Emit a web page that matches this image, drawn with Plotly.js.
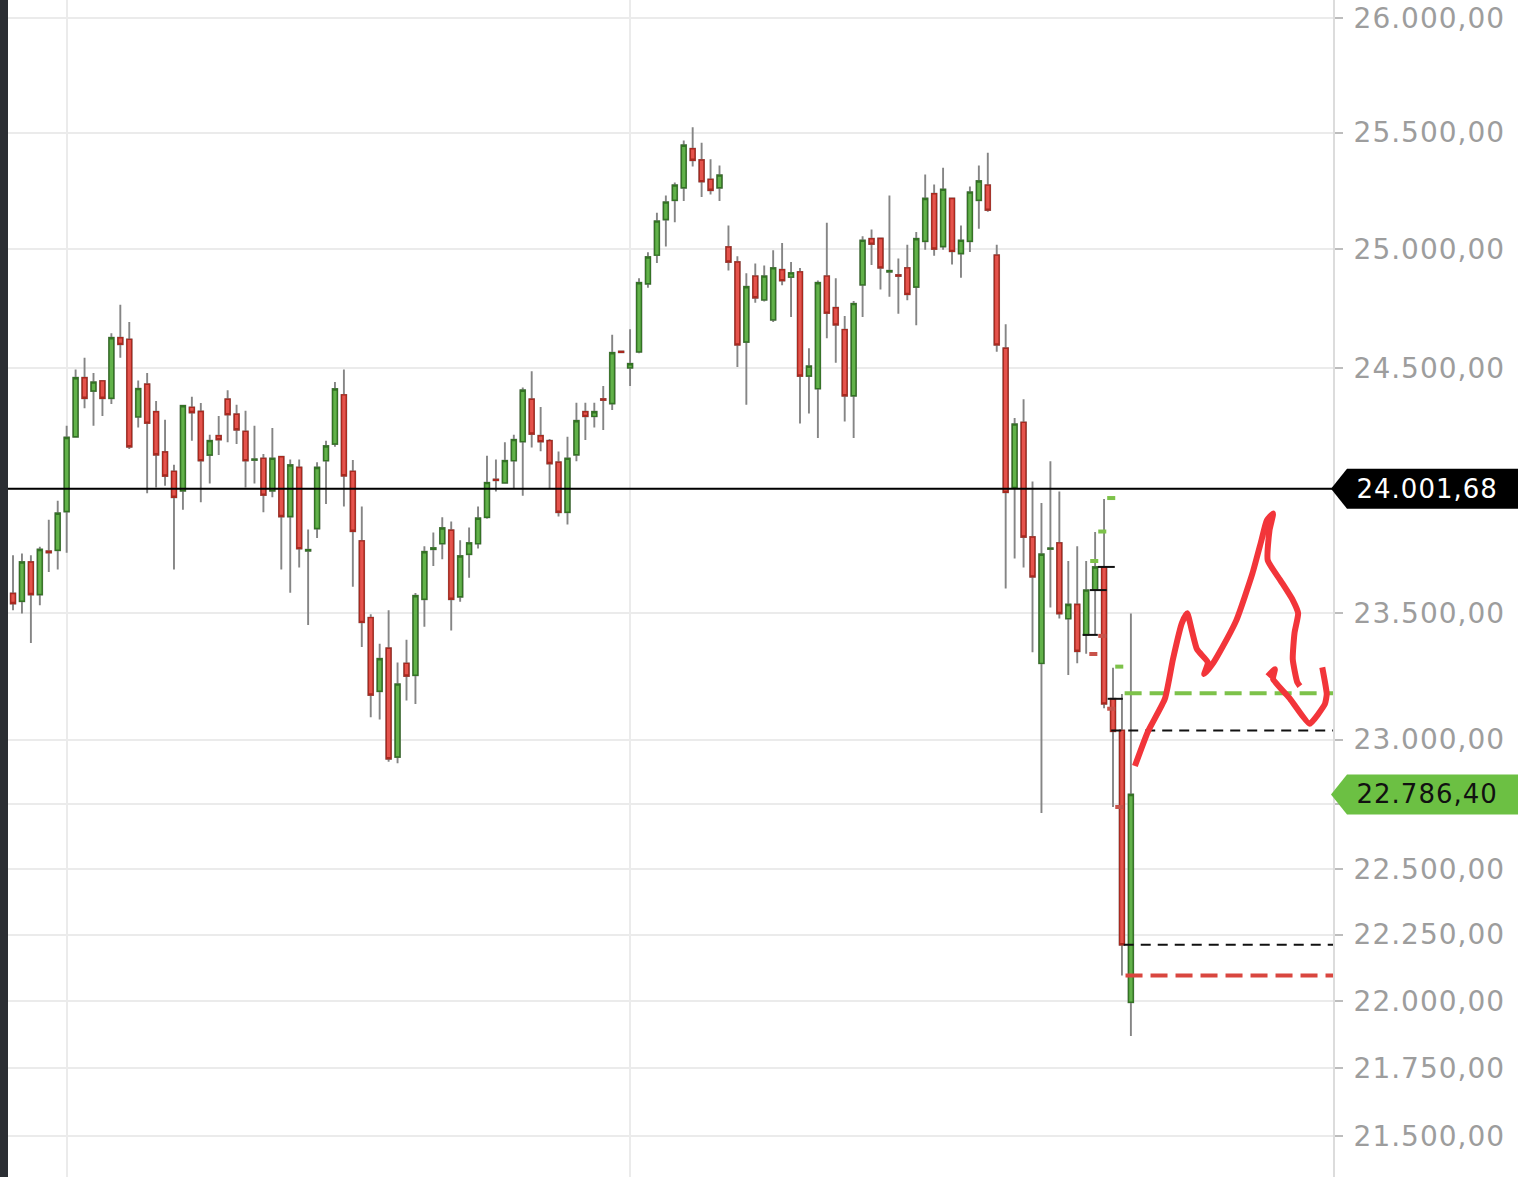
<!DOCTYPE html>
<html><head><meta charset="utf-8">
<script src="https://cdn.plot.ly/plotly-3.0.1.min.js"></script>
<style>html,body{margin:0;padding:0;background:#fff;overflow:hidden}#chart{width:1518px;height:1177px}
#chart .ytick text{letter-spacing:1px}
#chart .annotation-text{letter-spacing:1px}
</style>
</head><body><div id="chart"></div>
<script>
// OHLC values (one candle per session)
const openP  = [23578,23547,23705,23574,23748,23752,23909,24215,24459,24404,24446,24374,24626,24619,24297,24432,24318,24152,24073,23994,24336,24319,24140,24219,24370,24308,24237,24119,24126,23994,24133,23889,24089,23750,23840,24117,24185,24388,24073,23790,23482,23190,23360,22932,23300,23253,23555,23756,23779,23833,23565,23736,23779,23886,24040,24026,24117,24195,24370,24219,24199,24110,23906,24141,24318,24299,24371,24352,24569,24500,24567,24853,24974,25126,25208,25262,25430,25381,25298,25262,25009,24945,24608,24885,24785,24701,24912,24881,24903,24466,24414,24885,24752,24660,24384,24848,25044,25045,24904,24890,24920,24839,25033,25236,25011,25216,24981,25033,25208,25273,24974,24582,24007,24274,23806,23300,23757,23782,23478,23534,23413,23594,23685,23160,23036,21996];
const highP  = [23732,23739,23732,23766,23876,23953,24260,24493,24542,24479,24448,24645,24764,24692,24448,24479,24363,24285,24100,24347,24380,24354,24223,24301,24407,24347,24322,24260,24144,24251,24137,24121,24121,23836,24110,24199,24441,24493,24119,23930,23495,23378,23511,23303,23394,23580,23768,23824,23886,23869,23793,23844,23930,24137,24121,24192,24223,24418,24486,24338,24206,24154,24215,24355,24355,24355,24425,24638,24572,24661,24876,24986,25155,25229,25284,25466,25523,25456,25384,25358,25100,24969,24897,24939,24930,24995,25026,24945,24920,24582,24867,25112,24876,24717,24780,25054,25083,25048,25229,24960,25018,25073,25319,25276,25348,25218,25100,25267,25358,25413,25018,24682,24292,24370,24031,23944,24114,23991,23709,23768,23709,23826,23960,23283,23179,23498];
const lowP   = [23511,23498,23381,23531,23665,23675,23742,24212,24333,24260,24301,24350,24542,24165,24253,23983,24007,24014,23675,23916,24199,23947,24023,24140,24192,24185,24007,24023,23906,23967,23675,23581,23683,23452,23802,23940,24174,23930,23605,23365,23088,23079,22914,22908,23153,23140,23445,23689,23716,23430,23545,23641,23759,23880,23991,24023,24003,23973,24171,24155,24003,23889,23856,24114,24202,24253,24243,24325,24562,24425,24561,24836,24941,25011,25114,25205,25353,25222,25233,25205,24909,24504,24347,24773,24778,24692,24847,24713,24270,24311,24210,24624,24521,24278,24210,24713,24932,24829,24798,24727,24783,24678,24997,24972,24997,24934,24878,24987,25086,25159,24567,23598,23719,23683,23344,22715,23522,23478,23254,23300,23338,23413,23123,22738,22096,21870];
const closeP = [23538,23705,23574,23755,23743,23902,24212,24459,24374,24441,24374,24626,24598,24174,24414,24271,24141,24054,23967,24343,24315,24117,24199,24203,24306,24244,24117,24123,23976,24126,23889,24099,23759,23754,24089,24177,24412,24055,23829,23463,23175,23318,22925,23218,23250,23569,23746,23762,23842,23555,23729,23782,23882,24027,24036,24117,24203,24407,24226,24195,24105,23906,24126,24281,24299,24318,24366,24563,24565,24517,24857,24966,25119,25200,25273,25445,25380,25288,25251,25316,24945,24596,24840,24794,24885,24920,24866,24899,24466,24507,24857,24729,24680,24384,24769,25037,25021,24920,24908,24886,24808,25044,25216,25000,25255,24990,25037,25243,25291,25166,24596,23987,24267,23806,23645,23736,23761,23498,23534,23348,23592,23685,23140,23032,22212,22786.4];

// Month separators (candle index)
const monthStarts = [6, 69];

// Right axis ticks
const tickVals  = [21500,21750,22000,22250,22500,22750,23000,23500,24000,24500,25000,25500,26000];
const tickTexts = ["21.500,00","21.750,00","22.000,00","22.250,00","22.500,00","","23.000,00","23.500,00","","24.500,00","25.000,00","25.500,00","26.000,00"];

// Price tags
const refPrice = 24001.68, refText = "24.001,68";
const lastPrice = 22786.40, lastText = "22.786,40";

// Overlay levels (price, start index)
const greenLevel = 23182, greenLevelStart = 124.3;
const redLevel   = 22096, redLevelStart   = 124.4;
const blackLevels = [23036, 22212], blackLevelStarts = [122.8, 124.2];

// Small level marks near the last candles
const greenMarkX = [122.8, 121.8, 120.9, 123.7];
const greenMarkY = [23964, 23828, 23709, 23287];
const redMarkX = [120.8, 121.8, 122.8, 123.7];
const redMarkY = [23337, 23409, 23121, 22738];
const blackTickX0 = [121.3, 120.4, 119.6, 122.4];
const blackTickX1 = [123.2, 122.3, 121.3, 124.1];
const blackTickY  = [23685, 23592, 23413, 23160];

// Hand-drawn red scenario (index, price)
const drawX = [125.45,126.9,128.8,129.7,130.7,131.3,131.8,132.4,133.6,133.2,134.1,134.9,136.8,138.6,139.6,140.2,140.9,140.5,140.3,141.7,143.1,143.7,143.3,143.1,143.6,143.9];
const drawY = [22897,23031,23160,23316,23460,23499,23433,23355,23304,23257,23296,23343,23472,23660,23793,23873,23901,23833,23712,23632,23552,23499,23421,23316,23226,23210];
const arrowX = [140.3,141.1,140.9,142.8,145.0,146.7,146.9,146.4];
const arrowY = [23249,23277,23238,23160,23062,23140,23179,23284];

// ---------- build ----------
const X_MIN = -0.56, X_MAX = 147.6;
const Y_LO = 21352, Y_HI = 26081;
const yr0 = Math.log10(Y_LO), yr1 = Math.log10(Y_HI);
const toPaper = p => (Math.log10(p) - yr0) / (yr1 - yr0);

const idx = openP.map((_, i) => i);
const bodyHi = openP.map((o, i) => Math.max(o, closeP[i]));
const bodyLo = openP.map((o, i) => Math.min(o, closeP[i]));

function segs(x0s, x1s, ys) {
  const X = [], Y = [];
  for (let i = 0; i < ys.length; i++) { X.push(x0s[i], x1s[i], null); Y.push(ys[i], ys[i], null); }
  return {X, Y};
}
const HALF = 0.45;
const gm = segs(greenMarkX.map(v => v - HALF), greenMarkX.map(v => v + HALF), greenMarkY);
const rm = segs(redMarkX.map(v => v - HALF), redMarkX.map(v => v + HALF), redMarkY);
const bt = segs(blackTickX0, blackTickX1, blackTickY);
const bl = segs(blackLevelStarts, blackLevels.map(() => X_MAX), blackLevels);

const traces = [
  { type: 'candlestick', x: idx, open: openP, high: highP, low: lowP, close: closeP,
    increasing: {line: {color: '#858585', width: 1.9}, fillcolor: '#858585'},
    decreasing: {line: {color: '#858585', width: 1.9}, fillcolor: '#858585'},
    hoverinfo: 'skip', showlegend: false },
  { type: 'candlestick', x: idx, open: openP, high: bodyHi, low: bodyLo, close: closeP,
    increasing: {line: {color: '#337224', width: 1.4}, fillcolor: '#62b24a'},
    decreasing: {line: {color: '#a8291f', width: 1.4}, fillcolor: '#e5534c'},
    hoverinfo: 'skip', showlegend: false },
  { type: 'scatter', mode: 'lines', x: [X_MIN, X_MAX], y: [refPrice, refPrice],
    line: {color: '#000', width: 2}, hoverinfo: 'skip', showlegend: false },
  { type: 'scatter', mode: 'lines', x: bl.X, y: bl.Y, connectgaps: false,
    line: {color: '#111', width: 2, dash: '10px,7px'}, hoverinfo: 'skip', showlegend: false },
  { type: 'scatter', mode: 'lines', x: [greenLevelStart, X_MAX], y: [greenLevel, greenLevel],
    line: {color: '#7dc24a', width: 4, dash: '17px,8px'}, hoverinfo: 'skip', showlegend: false },
  { type: 'scatter', mode: 'lines', x: [redLevelStart, X_MAX], y: [redLevel, redLevel],
    line: {color: '#d9463f', width: 4, dash: '17px,8px'}, hoverinfo: 'skip', showlegend: false },
  { type: 'scatter', mode: 'lines', x: gm.X, y: gm.Y, line: {color: '#7dc24a', width: 4},
    hoverinfo: 'skip', showlegend: false },
  { type: 'scatter', mode: 'lines', x: rm.X, y: rm.Y, line: {color: '#c8524a', width: 4},
    hoverinfo: 'skip', showlegend: false },
  { type: 'scatter', mode: 'lines', x: bt.X, y: bt.Y, line: {color: '#111', width: 2},
    hoverinfo: 'skip', showlegend: false },
  { type: 'scatter', mode: 'lines', x: drawX, y: drawY, line: {color: '#f2353a', width: 6, shape: 'spline', smoothing: 0.5},
    hoverinfo: 'skip', showlegend: false },
  { type: 'scatter', mode: 'lines', x: arrowX, y: arrowY, line: {color: '#f2353a', width: 6, shape: 'spline', smoothing: 0.4},
    hoverinfo: 'skip', showlegend: false }
];

function tag(price, color) {
  return { type: 'path', xref: 'paper', xsizemode: 'pixel', xanchor: 1,
    yref: 'paper', ysizemode: 'pixel', yanchor: toPaper(price),
    path: 'M -2,0 L 14,20 L 190,20 L 190,-20 L 14,-20 Z',
    fillcolor: color, line: {width: 0}, layer: 'above' };
}

const layout = {
  width: 1518, height: 1177,
  margin: {l: 8, r: 185, t: 0, b: 0},
  paper_bgcolor: '#fff', plot_bgcolor: '#fff',
  boxmode: 'overlay', boxgap: 0.25,
  showlegend: false,
  font: {family: 'DejaVu Sans', color: '#9d9d9d'},
  xaxis: { range: [X_MIN, X_MAX], tickmode: 'array', tickvals: monthStarts, showticklabels: false,
    showgrid: true, gridcolor: '#ebebeb', gridwidth: 2, zeroline: false, showline: false, ticks: '',
    rangeslider: {visible: false}, fixedrange: true },
  yaxis: { type: 'log', side: 'right', range: [yr0, yr1], tickmode: 'array', tickvals: tickVals, ticktext: tickTexts,
    showgrid: true, gridcolor: '#ebebeb', gridwidth: 2, zeroline: false,
    showline: true, linecolor: '#dcdcdc', linewidth: 2, ticks: 'outside', ticklen: 8, tickwidth: 2, tickcolor: '#bdbdbd',
    ticklabelstandoff: 5, tickfont: {family: 'DejaVu Sans', size: 28, color: '#9d9d9d'}, fixedrange: true },
  shapes: [
    { type: 'rect', xref: 'paper', yref: 'paper', x0: -8/1325, x1: 0, y0: 0, y1: 1,
      fillcolor: '#2b2e33', line: {width: 0}, layer: 'above' },
    tag(refPrice, '#000000'),
    tag(lastPrice, '#6cc043')
  ],
  annotations: [
    { xref: 'paper', x: 1, xanchor: 'left', xshift: 26, yref: 'paper', y: toPaper(refPrice), yanchor: 'middle',
      text: refText, showarrow: false, font: {family: 'DejaVu Sans', size: 26, color: '#ffffff'} },
    { xref: 'paper', x: 1, xanchor: 'left', xshift: 26, yref: 'paper', y: toPaper(lastPrice), yanchor: 'middle',
      text: lastText, showarrow: false, font: {family: 'DejaVu Sans', size: 26, color: '#111111'} }
  ]
};

Plotly.newPlot('chart', traces, layout, {staticPlot: true, displayModeBar: false});
</script></body></html>
